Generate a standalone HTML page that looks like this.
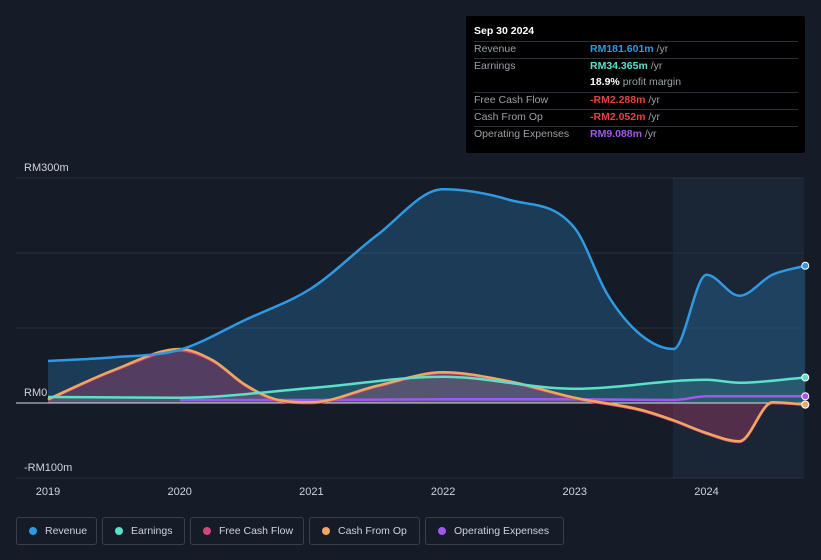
<!DOCTYPE html>
<html><head><meta charset="utf-8"><style>
body{margin:0;background:#151b27;font-family:"Liberation Sans",sans-serif;}
#wrap{position:relative;width:821px;height:560px;overflow:hidden;background:#151b27;}
.tt{position:absolute;left:466px;top:16px;width:339px;height:137px;background:#000;border-radius:2px;font-size:10.5px;color:#9aa0a8;}
.tt .row{position:absolute;left:8px;width:324px;height:17px;border-top:1px solid #2c313a;line-height:14px;}
.tt .row span.v{position:absolute;left:116px;font-weight:bold;}
.legend{position:absolute;top:517px;height:28px;border:1px solid #3a404b;border-radius:3px;color:#d0d4da;font-size:10.5px;line-height:26px;padding-left:28px;box-sizing:border-box;}
.legend i{position:absolute;left:12px;top:9px;width:8px;height:8px;border-radius:50%;}
</style></head><body><div id="wrap">
<svg id="svg" width="821" height="560" style="position:absolute;left:0;top:0"></svg>
<div class="tt">
<div style="position:absolute;left:8px;top:9px;color:#fff;font-weight:bold;font-size:10.5px">Sep 30 2024</div>
<div class="row" style="top:25px"><span>Revenue</span><span class="v" style="color:#2f9ae3">RM181.601m <span style="color:#9aa0a8;font-weight:normal">/yr</span></span></div>
<div class="row" style="top:42px"><span>Earnings</span><span class="v" style="color:#5ce0c8">RM34.365m <span style="color:#9aa0a8;font-weight:normal">/yr</span></span></div>
<div class="row" style="top:59px;border-top:none"><span></span><span class="v" style="color:#fff">18.9% <span style="color:#9aa0a8;font-weight:normal">profit margin</span></span></div>
<div class="row" style="top:76px"><span>Free Cash Flow</span><span class="v" style="color:#e8413f">-RM2.288m <span style="color:#9aa0a8;font-weight:normal">/yr</span></span></div>
<div class="row" style="top:93px"><span>Cash From Op</span><span class="v" style="color:#e8413f">-RM2.052m <span style="color:#9aa0a8;font-weight:normal">/yr</span></span></div>
<div class="row" style="top:110px"><span>Operating Expenses</span><span class="v" style="color:#a356f0">RM9.088m <span style="color:#9aa0a8;font-weight:normal">/yr</span></span></div>
</div>
<div class="legend" style="left:16px;width:81px"><i style="background:#2f9ae3"></i>Revenue</div>
<div class="legend" style="left:102px;width:83px"><i style="background:#5ce0c8"></i>Earnings</div>
<div class="legend" style="left:190px;width:114px"><i style="background:#d6457a"></i>Free Cash Flow</div>
<div class="legend" style="left:309px;width:111px"><i style="background:#f0a860"></i>Cash From Op</div>
<div class="legend" style="left:425px;width:139px"><i style="background:#a356f0"></i>Operating Expenses</div>
</div>
<script>
const revT=[2019,2019.5,2020,2020.5,2021,2021.5,2022,2022.5,2023,2023.25,2023.5,2023.75,2024,2024.25,2024.5,2024.75];
const revV=[56,61,71,111,153,224,285,271,233,144,91,72,171,143,171,183];
const earnT=[2019,2020,2021,2022,2023,2024,2024.25,2024.75];
const earnV=[8,7,20,35,19,31,27,34];
const cfoT=[2019,2019.5,2020,2020.25,2020.5,2020.75,2021,2021.5,2022,2022.5,2023,2023.5,2023.75,2024,2024.25,2024.5,2024.75];
const cfoV=[5,44,72,57,24,4,1,23,41,29,7,-9,-23,-40,-51,1,-2];
const fcfV=[4,43,70,56,23,3,0,22,40,28,6,-10,-24,-41,-52,0,-2.3];
const opxT=[2020,2021,2022,2023,2023.75,2024,2024.75];
const opxV=[4,4,5,5,4,9,9];
const yTicks=[300,0,-100];const yLabels=["RM300m","RM0","-RM100m"];
const xTicks=[2019,2020,2021,2022,2023,2024];
const X=t=>48+(t-2019)*131.7, Y=v=>403-v*0.75;
const svg=document.getElementById('svg');const NS='http://www.w3.org/2000/svg';
function el(tag,a,p){const e=document.createElementNS(NS,tag);for(const k in a)e.setAttribute(k,a[k]);(p||svg).appendChild(e);return e;}
function path(T,V){
  const xs=T.map(X),ys=V.map(Y),n=xs.length;
  const d=[],m=[];
  for(let i=0;i<n-1;i++)d.push((ys[i+1]-ys[i])/(xs[i+1]-xs[i]));
  m[0]=d[0];m[n-1]=d[n-2];
  for(let i=1;i<n-1;i++){m[i]=(d[i-1]*d[i]<=0)?0:(d[i-1]+d[i])/2;}
  for(let i=0;i<n-1;i++){if(d[i]===0){m[i]=0;m[i+1]=0;continue;}const a=m[i]/d[i],b=m[i+1]/d[i],s=a*a+b*b;if(s>9){const t=3/Math.sqrt(s);m[i]=t*a*d[i];m[i+1]=t*b*d[i];}}
  let p='M'+xs[0]+','+ys[0];
  for(let i=0;i<n-1;i++){const h=(xs[i+1]-xs[i])/3;p+=` C${xs[i]+h},${ys[i]+m[i]*h} ${xs[i+1]-h},${ys[i+1]-m[i+1]*h} ${xs[i+1]},${ys[i+1]}`;}
  return p;}
let r=el('rect',{x:673,y:178,width:131,height:300,fill:'#1a2535'});
[178,253,328,478].forEach(y=>{let g=el('line',{x1:16,x2:804,y1:y,y2:y,stroke:'#2a303b'});});
yTicks.forEach((v,i)=>{let t=el('text',{x:24,y:Y(v)-7,fill:'#d0d4da','font-size':11});t.textContent=yLabels[i];});
xTicks.forEach(v=>{let t=el('text',{x:X(v),y:495,fill:'#d0d4da','font-size':11,'text-anchor':'middle'});t.textContent=v;});
const y0=Y(0);
function area(T,V,fill,name){let d=path(T,V)+` L${X(T[T.length-1])},${y0} L${X(T[0])},${y0} Z`;let a=el('path',{d,fill});}
area(revT,revV,'rgba(47,154,227,0.25)','revenue-area');
area(cfoT,fcfV,'rgba(214,69,122,0.3)','fcf-area');
area(earnT,earnV,'rgba(92,224,200,0.15)','earnings-area');
let z=el('line',{x1:16,x2:804,y1:y0,y2:y0,stroke:'#e0e0e0','stroke-width':1});
function line(T,V,c,name){let l=el('path',{d:path(T,V),fill:'none',stroke:c,'stroke-width':2.5});
let dot=el('circle',{cx:X(T[T.length-1]),cy:Y(V[V.length-1]),r:3.5,fill:c,stroke:'#fff','stroke-width':1});}
line(opxT,opxV,'#a356f0','opex-line');
line(cfoT,fcfV,'#d6457a','fcf-line');
line(cfoT,cfoV,'#f0a860','cfo-line');
line(earnT,earnV,'#5ce0c8','earnings-line');
line(revT,revV,'#2f9ae3','revenue-line');
</script></body></html>
